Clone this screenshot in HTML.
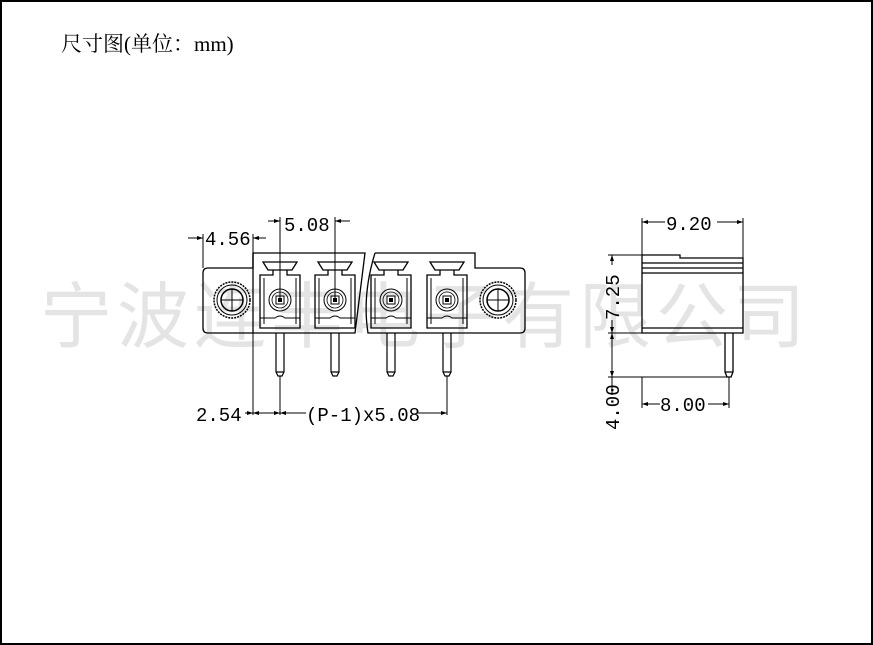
<!DOCTYPE html>
<html><head><meta charset="utf-8"><style>
html,body{margin:0;padding:0;background:#fff}
body{width:873px;height:645px;overflow:hidden;position:relative}
.frame{position:absolute;left:0;top:0;width:869px;height:641px;border:2px solid #000}
.title{position:absolute;left:61px;top:28px;font:21px "Liberation Serif","Noto Serif CJK SC",serif;color:#000;white-space:nowrap}
.title .c{font-family:"Noto Serif CJK SC",serif}
</style></head><body>
<div class="frame"></div>
<div class="title"><span class="c">尺寸图</span>(<span class="c">单位：</span>mm)</div>
<svg width="873" height="645" style="position:absolute;left:0;top:0" font-family="'Liberation Mono',monospace">
<defs>
<g id="cell">
<path d="M-17,262 L17,262 L12,270 L-12,270 Z" fill="none" stroke="#000" stroke-width="1.3"/>
<path d="M-7,270 L-7,275 L-20,275 L-20,328 L20,328 L20,275 L7,275 L7,270" fill="none" stroke="#000" stroke-width="1.3"/>
<path d="M-16,278 L-16,324 M16,278 L16,324 M-20,318 L-5,318 Q0,314 5,318 L20,318" fill="none" stroke="#000" stroke-width="1"/>
<circle cx="0" cy="300" r="11" fill="none" stroke="#000" stroke-width="1"/>
<circle cx="0" cy="300" r="8" fill="none" stroke="#000" stroke-width="0.8"/>
<rect x="-4" y="296" width="8" height="8" fill="none" stroke="#000" stroke-width="1"/>
<rect x="-2" y="298" width="4" height="4" fill="#000"/>
<path d="M-4,333 L-4,372 L-2,376 L2,376 L4,372 L4,333 M-4,372 L4,372" fill="none" stroke="#000" stroke-width="1.2"/>
</g>
<g id="screw">
<circle r="18" fill="none" stroke="#000" stroke-width="1.5" stroke-dasharray="2 1"/>
<circle r="15" fill="none" stroke="#000" stroke-width="1"/>
<circle r="11" fill="none" stroke="#000" stroke-width="1.5"/>
<path d="M-11,0 L11,0 M0,-11 L0,11" stroke="#000" stroke-width="1"/>
</g>
</defs>
<text x="40" y="342" font-size="72" fill="#e4e4e4" font-family="'Noto Sans CJK SC',sans-serif" letter-spacing="5">宁波连丰电子有限公司</text>
<g fill="none" stroke="#000" stroke-width="1.3">
<path d="M253,268 L208,268 Q203,268 203,273 L203,328 Q203,333 208,333 L355,333 L365,253 L253,253 Z"/>
<path d="M375,253 L475,253 L475,268 L520,268 Q525,268 525,273 L525,328 Q525,333 520,333 L368,333 Q362,295 375,253"/>
<path d="M253,253 L253,333"/>
</g>
<use href="#cell" x="280"/><use href="#cell" x="335"/><use href="#cell" x="391"/><use href="#cell" x="447"/>
<use href="#screw" x="232" y="300"/><use href="#screw" x="498" y="300"/>
<g stroke="#000" stroke-width="1" fill="none">
<path d="M280,217 L280,300 M335,217 L335,300 M268,221 L280,221 M335,221 L350,221"/>
<path d="M203,234 L203,268 M253,234 L253,253 M188,238 L203,238 M253,238 L266,238"/>
<path d="M253,333 L253,415 M280,376 L280,415 M447,376 L447,415 M245,413 L253,413 M253,413 L280,413 M280,413 L306,413 M417,413 L447,413"/>
</g>
<g fill="#000"><path d="M280,221 l-6,-2 v4z M335,221 l6,-2 v4z M203,238 l-6,-2 v4z M253,238 l6,-2 v4z M253,413 l-6,-2v4z M253,413 l6,-2v4z M280,413 l-6,-2v4z M280,413 l6,-2v4z M447,413 l-6,-2v4z"/></g>
<g font-size="19" fill="#000">
<text x="284" y="231">5.08</text>
<text x="205" y="245">4.56</text>
<text x="196" y="421">2.54</text>
<text x="306" y="421">(P-1)x5.08</text>
</g>
<g fill="none" stroke="#000" stroke-width="1.3">
<path d="M642,255 L680,255 L680,258 L743,258 L743,333 L642,333 Z"/>
<path d="M642,263 L743,263 M642,268 L743,268 M642,273 L743,273 M642,328 L743,328"/>
<path d="M725,333 L725,372 L727,377 L731,377 L733,372 L733,333 M725,372 L733,372"/>
</g>
<g stroke="#000" stroke-width="1" fill="none">
<path d="M642,218 L642,255 M743,218 L743,258 M642,222 L665,222 M717,222 L743,222"/>
<path d="M608,255 L642,255 M608,333 L642,333 M608,377 L729,377 M612,255 L612,265 M612,320 L612,395"/>
<path d="M642,377 L642,408 M729,377 L729,408 M642,404 L660,404 M708,404 L729,404"/>
</g>
<g fill="#000"><path d="M642,222 l6,-2v4z M743,222 l-6,-2v4z M612,255 l-2,6h4z M612,333 l-2,-6h4z M612,333 l-2,6h4z M612,377 l-2,-6h4z M642,404 l6,-2v4z M729,404 l-6,-2v4z"/></g>
<g font-size="19" fill="#000">
<text x="666" y="230">9.20</text>
<text x="660" y="411">8.00</text>
<text transform="translate(619,320) rotate(-90)">7.25</text>
<text transform="translate(619,430) rotate(-90)">4.00</text>
</g>
</svg>
</body></html>
